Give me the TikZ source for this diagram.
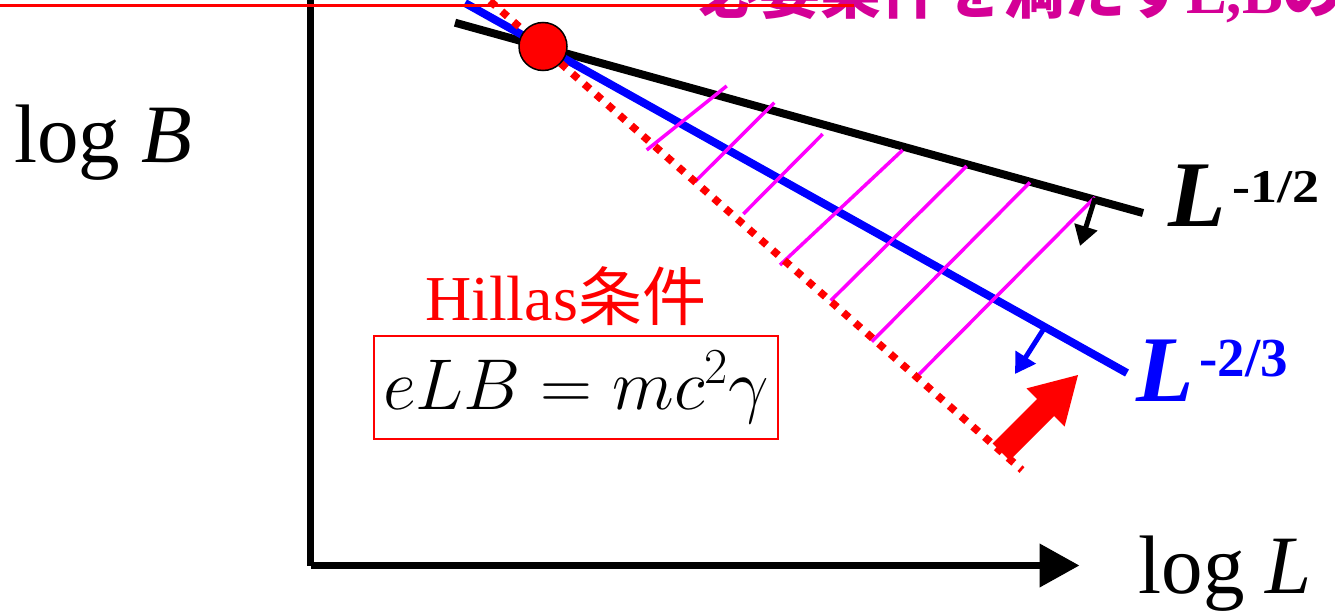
\RequirePackage{fix-cm}
\documentclass[tikz,border=0pt]{standalone}
\usepackage{fontspec}
\setmainfont{Liberation Serif}
\newfontfamily\cjk{Noto Sans CJK JP}
\usetikzlibrary{arrows.meta}
\definecolor{hatch}{RGB}{255,0,255}
\definecolor{toptext}{RGB}{212,0,150}
\tikzset{
  axis/.style={line width=7.5pt, -{Triangle[width=42pt,length=40pt]}},
  bound/.style={line width=8pt},
  hatchline/.style={hatch, line width=3.5pt},
  hillas/.style={red, line width=7.5pt, dash pattern=on 7.5pt off 8.2pt},
  shiftarrow/.style={line width=5pt, -{Triangle[width=23pt,length=20pt]}},
  lbl/.style={inner sep=0pt, anchor=base west},
}
\begin{document}
\begin{tikzpicture}[x=1pt,y=-1pt]
\clip (0,0) rectangle (1335,613);
\fill[white] (0,0) rectangle (1335,613);

% axes
\coordinate (O) at (310.5,565.5);
\coordinate (ytop) at (310.5,-5);
\coordinate (xend) at (1079.5,565.5);
\draw[line width=7.5pt] (ytop) -- (O);
\draw[axis] (O) -- (xend);

% lines
\coordinate (k1) at (455,22.7);
\coordinate (k2) at (1143,213);
\coordinate (b1) at (465,3);
\coordinate (b2) at (1127,373);
\coordinate (r1) at (490,1);
\coordinate (r2) at (1022,470);
\draw[bound, black] (k1) -- (k2);
\draw[bound, blue] (b1) -- (b2);

% hatching
\foreach \a/\b/\c/\d [count=\i] in {646.7/150/726.7/86, 695/181.7/774.3/102.7, 743.3/214/822.7/134, 780/265/902.7/150, 830.7/300.7/966.7/166, 871.7/341.7/1030/182.3, 918.3/375/1095/197.3}{
  \coordinate (h\i a) at (\a,\b);
  \coordinate (h\i b) at (\c,\d);
  \draw[hatchline] (h\i a) -- (h\i b);
}

\draw[hillas] (r1) -- (r2);

% intersection point
\node[circle, fill=red, draw=black, line width=1.5pt, minimum size=48pt, inner sep=0pt] (P) at (543,46.5) {};

% shift arrows
\coordinate (ka) at (1095,198);
\coordinate (kb) at (1080,246);
\draw[shiftarrow, black] (ka) -- (kb);
\coordinate (ba) at (1043,330);
\coordinate (bb) at (1015,374);
\draw[shiftarrow, blue] (ba) -- (bb);

% big red arrow
\fill[red] (992.5,443.5) -- (1037,399) -- (1026.4,388.4) -- (1078,375) -- (1064.6,426.6) -- (1054,416) -- (1009.5,460.5) -- cycle;

% labels
\node[lbl] (logB) at (14,162) {\fontsize{83}{90}\selectfont log \textit{B}};
\node[inner sep=0pt, anchor=base east] (logL) at (1312,593) {\fontsize{83}{90}\selectfont log \textit{L}};

\node[lbl] (L1) at (1168,226) {\fontsize{94}{100}\selectfont\bfseries\itshape L};
\node[lbl] (L1s) at (1232,202) {\fontsize{47}{50}\selectfont\bfseries\scalebox{1.15}[1]{-1/2}};

\node[lbl, blue] (L2) at (1136,401) {\fontsize{94}{100}\selectfont\bfseries\itshape L};
\node[lbl, blue] (L2s) at (1199,376) {\fontsize{55}{60}\selectfont\bfseries -2/3};

\node[lbl, red] (hill) at (425,320) {\fontsize{64}{70}\selectfont Hillas{\cjk 条件}};
\node[draw=red, line width=1.8pt, minimum width=404pt, minimum height=103pt, inner sep=0pt] (eq) at (576,387.5) {\fontsize{72}{78}\selectfont $eLB = mc^2\gamma$};

% top
\node[lbl, toptext] (top) at (698,13) {\fontsize{61}{70}\selectfont\bfseries{\cjk 必要条件を満たす}L,B{\cjk の領域}};
\draw[red, line width=3pt] (0,5) -- (854,5);
\end{tikzpicture}
\end{document}
